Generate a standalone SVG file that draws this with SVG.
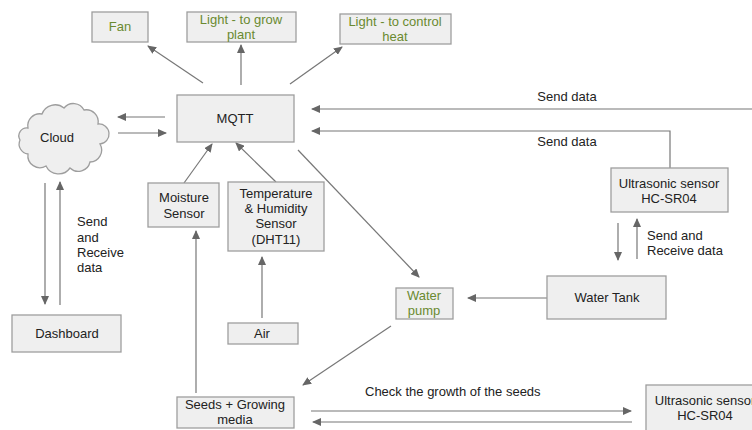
<svg xmlns="http://www.w3.org/2000/svg" width="752" height="430" viewBox="0 0 752 430">
<style>
.box{fill:#efefef;stroke:#9e9e9e;stroke-width:1.3}
.t{font-family:"Liberation Sans",Arial,sans-serif;font-size:13px;fill:#222;text-anchor:middle}
.g{fill:#6a8a30}
.l{text-anchor:start}
.c{stroke:#777;stroke-width:1.2;fill:none}
</style>
<defs>
<marker id="a" markerUnits="userSpaceOnUse" markerWidth="10" markerHeight="8" refX="8" refY="4" orient="auto">
<path d="M0,0 L9,4 L0,8 z" fill="#666"/>
</marker>
</defs>
<rect width="752" height="430" fill="#fff"/>
<g id="connectors">
<line class="c" x1="203" y1="83" x2="148" y2="46" marker-end="url(#a)"/>
<line class="c" x1="241" y1="85" x2="241" y2="45" marker-end="url(#a)"/>
<line class="c" x1="290" y1="84" x2="342" y2="47" marker-end="url(#a)"/>
<line class="c" x1="165" y1="117" x2="118" y2="117" marker-end="url(#a)"/>
<line class="c" x1="118" y1="133" x2="166" y2="133" marker-end="url(#a)"/>
<line class="c" x1="752" y1="109" x2="312" y2="109" marker-end="url(#a)"/>
<path class="c" d="M670,168 L670,131 L312,131" marker-end="url(#a)"/>
<line class="c" x1="618" y1="223" x2="618" y2="260" marker-end="url(#a)"/>
<line class="c" x1="637" y1="259" x2="637" y2="219" marker-end="url(#a)"/>
<line class="c" x1="547" y1="298" x2="468" y2="298" marker-end="url(#a)"/>
<line class="c" x1="298" y1="150" x2="419" y2="277" marker-end="url(#a)"/>
<line class="c" x1="391" y1="326" x2="303" y2="385" marker-end="url(#a)"/>
<line class="c" x1="311" y1="411" x2="631" y2="411" marker-end="url(#a)"/>
<line class="c" x1="632" y1="422" x2="313" y2="422" marker-end="url(#a)"/>
<line class="c" x1="184" y1="183" x2="212" y2="144" marker-end="url(#a)"/>
<line class="c" x1="276" y1="182" x2="236" y2="143" marker-end="url(#a)"/>
<line class="c" x1="196" y1="393" x2="196" y2="231" marker-end="url(#a)"/>
<line class="c" x1="262" y1="318" x2="262" y2="257" marker-end="url(#a)"/>
<line class="c" x1="45" y1="183" x2="45" y2="304" marker-end="url(#a)"/>
<line class="c" x1="60" y1="305" x2="60" y2="182" marker-end="url(#a)"/>
</g>
<g id="fan"><rect class="box" x="92" y="12" width="56" height="30"/><text class="t g" x="120" y="31">Fan</text></g>
<g id="light-grow"><rect class="box" x="187" y="12" width="109" height="30"/><text class="t g" x="241" y="24">Light - to grow</text><text class="t g" x="241" y="39">plant</text></g>
<g id="light-heat"><rect class="box" x="340" y="14" width="111" height="30"/><text class="t g" x="395" y="26">Light - to control</text><text class="t g" x="395" y="41">heat</text></g>
<g id="mqtt"><rect class="box" x="177" y="95" width="117" height="47"/><text class="t" x="235" y="123">MQTT</text></g>
<g id="cloud"><path class="box" d="M28,128 a12,12 0 0 1 14,-14 a14,14 0 0 1 22,-6 a12,12 0 0 1 20,2 a12,12 0 0 1 14,14 a10,10 0 0 1 2,20 a12,12 0 0 1 -10,18 a12,12 0 0 1 -20,6 a14,14 0 0 1 -24,-2 a12,12 0 0 1 -18,-12 a10,10 0 0 1 -8,-14 a8,8 0 0 1 8,-12 z"/><text class="t" x="57" y="142">Cloud</text></g>
<g id="send-data-labels"><text class="t" x="567" y="101">Send data</text><text class="t" x="567" y="146">Send data</text></g>
<g id="ultrasonic1"><rect class="box" x="611" y="168" width="117" height="44"/><text class="t" x="669" y="188">Ultrasonic sensor</text><text class="t" x="669" y="203">HC-SR04</text></g>
<g id="tank-label"><text class="t l" x="647" y="240">Send and</text><text class="t l" x="647" y="255">Receive data</text></g>
<g id="water-tank"><rect class="box" x="547" y="276" width="119" height="43"/><text class="t" x="607" y="302">Water Tank</text></g>
<g id="water-pump"><rect class="box" x="396" y="288" width="57" height="31"/><text class="t g" x="424" y="300">Water</text><text class="t g" x="424" y="315">pump</text></g>
<g id="moisture"><rect class="box" x="148" y="183" width="71" height="44"/><text class="t" x="184" y="202">Moisture</text><text class="t" x="184" y="218">Sensor</text></g>
<g id="temperature"><rect class="box" x="228" y="182" width="96" height="69"/><text class="t" x="276" y="198">Temperature</text><text class="t" x="276" y="213">&amp; Humidity</text><text class="t" x="276" y="228">Sensor</text><text class="t" x="276" y="244">(DHT11)</text></g>
<g id="air"><rect class="box" x="228" y="323" width="70" height="21"/><text class="t" x="262" y="338">Air</text></g>
<g id="dashboard"><rect class="box" x="12" y="315" width="109" height="37"/><text class="t" x="67" y="338">Dashboard</text></g>
<g id="dash-label"><text class="t l" x="77" y="226">Send</text><text class="t l" x="77" y="242">and</text><text class="t l" x="77" y="257">Receive</text><text class="t l" x="77" y="272">data</text></g>
<g id="seeds"><rect class="box" x="177" y="397" width="117" height="31"/><text class="t" x="235" y="409">Seeds + Growing</text><text class="t" x="235" y="424">media</text></g>
<g id="check-label"><text class="t l" x="365" y="396">Check the growth of the seeds</text></g>
<g id="ultrasonic2"><rect class="box" x="646" y="385" width="120" height="50"/><text class="t" x="705" y="405">Ultrasonic sensor</text><text class="t" x="705" y="420">HC-SR04</text></g>
</svg>
